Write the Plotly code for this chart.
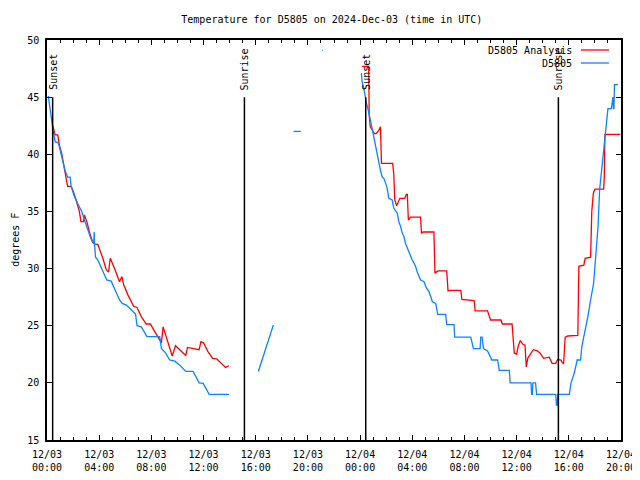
import pandas as pd
import plotly.graph_objects as go

# ---------------- data (hours after 2024-12-03 00:00 UTC, degrees F) ----------------
analysis_hours = [0.45, 0.62, 0.82, 0.95, 1.12, 1.33, 1.54, 1.58, 1.85, 1.97, 2.23, 2.48, 2.6, 2.8, 2.87,
                  3.08, 3.25, 3.5, 3.64, 3.9, 4.28, 4.54, 4.72, 4.85, 5.18, 5.56, 5.74, 5.87, 6.2, 6.64,
                  6.9, 7.23, 7.6, 7.92, 8.25, 8.58, 8.77, 8.9, 9.15, 9.4, 9.6, 9.85, 10.3, 10.64, 10.77,
                  11.2, 11.66, 11.8, 12.0, 12.35, 12.7, 13.0, 13.38, 13.69, 13.95,
                  None,
                  24.15, 24.66, 24.7, 24.78, 25.1, 25.23, 25.43, 25.56, 25.64, 26.5, 26.58, 26.66, 26.8,
                  27.05, 27.43, 27.54, 27.62, 27.7, 27.87, 28.64, 28.7, 28.82, 29.66, 29.7, 29.74, 29.97,
                  30.64, 30.74, 31.0, 31.72, 31.8, 32.74, 32.82, 33.77, 34.0, 34.8, 34.9, 35.65, 35.72,
                  35.82, 36.0, 36.12, 36.28, 36.46, 36.64, 36.74, 36.85, 37.15, 37.28, 37.6, 37.8, 38.07,
                  38.5, 38.72, 39.0, 39.14, 39.4, 39.5, 39.6, 39.72, 39.92, 40.69, 40.74, 40.77, 41.15,
                  41.25, 41.67, 41.76, 41.88, 42.0, 42.67, 42.72, 42.75, 42.77, 43.95]
analysis_temps = [42.5, 41.7, 41.7, 40.8, 40.1, 38.9, 37.75, 37.2, 37.2, 36.9, 36.0, 35.0, 34.1, 34.1, 34.7,
                  34.0, 33.2, 32.3, 32.15, 32.1, 30.9, 29.9, 29.7, 30.9, 30.0, 28.85, 29.3, 28.6, 27.7, 26.7,
                  26.6, 25.8, 25.15, 25.15, 24.5, 23.9, 23.5, 24.9, 24.05, 23.2, 22.35, 23.25, 22.8, 22.4, 23.1,
                  23.0, 22.9, 23.6, 23.5, 22.7, 22.15, 22.1, 21.7, 21.35, 21.5,
                  None,
                  47.7, 47.7, 43.4, 42.4, 41.8, 41.8, 42.1, 42.4, 39.2, 39.2, 38.3, 36.0, 35.5,
                  36.15, 36.15, 36.5, 36.5, 34.25, 34.5, 34.5, 33.1, 33.2, 33.2, 31.4, 29.6, 29.8,
                  29.8, 28.06, 28.1, 28.1, 27.3, 27.2, 26.3, 26.3, 25.5, 25.5, 25.15, 25.15, 23.9,
                  22.6, 22.5, 23.2, 23.7, 23.4, 23.3, 21.4, 22.15, 22.6, 22.9, 22.8, 22.6, 22.15,
                  22.25, 21.7, 21.7, 22.05, 22.0, 21.75, 21.7, 24.0, 24.1, 24.15, 27.25, 30.2, 30.3,
                  30.9, 31.0, 35.0, 36.6, 36.95, 36.95, 38.0, 40.5, 41.75, 41.75]

obs_hours = [0.1, 0.2, 0.35, 0.43, 0.62, 0.87, 1.0, 1.2, 1.38, 1.58, 1.77, 1.85, 2.1, 2.35, 2.66, 2.87,
             3.12, 3.38, 3.58, 3.62, 3.64, 3.72, 3.9, 4.28, 4.58, 4.92, 5.25, 5.56, 5.77, 6.08, 6.46,
             6.79, 6.9, 7.23, 7.66, 8.64, 8.77, 9.1, 9.4, 9.8, 10.18, 10.64, 11.2, 11.66, 11.97, 12.43,
             13.95,
             None, 16.2, 17.35,
             None, 18.9, 19.46,
             None, 21.08, 21.14,
             None,
             24.1, 24.15, 24.28, 24.35, 24.48, 24.6, 24.7, 24.85, 24.97, 25.1, 25.23, 25.3, 25.43,
             25.56, 25.7, 25.82, 25.95, 26.08, 26.2, 26.46, 26.58, 26.72, 26.85, 26.97, 27.1, 27.23,
             27.36, 27.48, 27.61, 27.74, 27.87, 28.0, 28.25, 28.38, 28.64, 28.9, 29.08, 29.28, 29.54,
             29.8, 29.95, 30.56, 30.64, 31.2, 31.25, 32.48, 32.69, 33.2, 33.25, 33.35, 33.46, 33.77,
             34.1, 34.54, 34.67, 35.44, 35.5, 37.1, 37.15, 37.2, 37.25, 37.45, 37.53, 39.0, 39.05,
             39.12, 39.15, 40.04, 40.17, 40.43, 40.64, 40.9, 41.0, 41.2, 41.46, 41.67, 41.9, 42.1,
             42.24, 42.36, 42.5, 42.64, 42.82, 43.0, 43.26, 43.38, 43.42, 43.46, 43.5, 43.77]
obs_temps = [45.1, 44.2, 43.0, 42.4, 41.1, 41.0, 40.4, 39.5, 38.6, 38.0, 38.0, 37.2, 36.3, 35.7, 35.0, 34.25,
             33.4, 32.6, 32.2, 33.2, 32.2, 31.0, 30.75, 29.7, 29.0, 28.9, 28.1, 27.25, 26.95, 26.8, 26.4,
             26.0, 25.0, 24.9, 24.05, 24.05, 23.0, 22.6, 22.0, 21.9, 21.55, 21.0, 21.0, 20.0, 19.95, 19.0,
             19.0,
             None, 21.0, 25.06,
             None, 42.0, 42.0,
             None, 49.1, 49.1,
             None,
             47.1, 46.35, 45.8, 45.3, 44.5, 44.0, 43.4, 42.4, 42.0, 41.25, 40.5, 39.8, 39.1,
             38.6, 38.0, 37.9, 37.5, 37.0, 36.15, 36.0, 35.3, 35.0, 34.85, 34.1, 33.7, 33.1,
             32.8, 32.2, 31.8, 31.5, 31.0, 30.75, 30.2, 29.7, 29.0, 28.85, 28.3, 28.0, 27.1,
             26.95, 26.0, 26.0, 25.1, 25.1, 24.0, 24.0, 23.0, 23.0, 24.0, 24.0, 23.0, 22.8,
             22.0, 22.0, 21.1, 21.1, 20.0, 20.0, 19.0, 19.0, 20.0, 20.0, 19.0, 19.0, 18.06,
             18.06, 19.0, 19.0, 20.0, 20.9, 22.0, 22.0, 23.2, 24.3, 25.8, 27.25, 28.7, 31.6,
             33.7, 36.9, 38.5, 39.9, 42.4, 44.0, 44.0, 45.0, 44.0, 44.0, 46.1, 46.1]

sun_labels = ["Sunset", "Sunrise", "Sunset", "Sunrise"]
sun_times = ["2024-12-03 00:26", "2024-12-03 15:08", "2024-12-04 00:26", "2024-12-04 15:12"]

series_names = ["D5805 Analysis", "D5805"]
series_colors = ["#ff0000", "#0a84ff"]

title_text = "Temperature for D5805 on 2024-Dec-03 (time in UTC)"
y_label = "degrees F"

base = pd.Timestamp("2024-12-03 00:00")


def to_dt(hours):
    return [None if h is None else base + pd.Timedelta(hours=h) for h in hours]


FONT = "DejaVu Sans Mono"

fig = go.Figure()
fig.add_trace(go.Scatter(x=to_dt(analysis_hours), y=analysis_temps, mode="lines",
                         line=dict(color=series_colors[0], width=1.3), name=series_names[0],
                         connectgaps=False, showlegend=False))
fig.add_trace(go.Scatter(x=to_dt(obs_hours), y=obs_temps, mode="lines",
                         line=dict(color=series_colors[1], width=1.3), name=series_names[1],
                         connectgaps=False, showlegend=False))

# sunrise / sunset markers
for lab, t in zip(sun_labels, sun_times):
    fig.add_shape(type="line", xref="x", yref="y", x0=t, x1=t, y0=15, y1=45,
                  line=dict(color="black", width=1.5))
    fig.add_annotation(x=t, y=45, xref="x", yref="y", text=lab, showarrow=False,
                       textangle=-90, xanchor="center", yanchor="bottom", yshift=5,
                       font=dict(family=FONT, size=10, color="black"))

# legend (gnuplot style: text then sample line)
for i, (nm, col) in enumerate(zip(series_names, series_colors)):
    yp = 0.975 - i * 0.0325
    fig.add_annotation(x=0.918, y=yp, xref="paper", yref="paper", text=nm, showarrow=False,
                       xanchor="right", yanchor="middle",
                       font=dict(family=FONT, size=10, color="black"))
    fig.add_shape(type="line", xref="paper", yref="paper", x0=0.93, x1=0.979, y0=yp, y1=yp,
                  line=dict(color=col, width=1.3))

# y-axis label
fig.add_annotation(x=-0.056, y=0.5, xref="paper", yref="paper", text=y_label, showarrow=False,
                   textangle=-90, xanchor="center", yanchor="middle",
                   font=dict(family=FONT, size=10, color="black"))

# page has an 8px body margin, so margins are offset to place the plot area at 47..621 x 40..440
fig.update_layout(
    width=640, height=480,
    margin=dict(l=39, r=27, t=32, b=48),
    paper_bgcolor="white", plot_bgcolor="white",
    font=dict(family=FONT, size=10, color="black"),
    title=dict(text=title_text, x=0.506, xanchor="center", y=1 - 11 / 480, yanchor="middle",
               font=dict(family=FONT, size=10, color="black")),
    showlegend=False,
)
fig.update_xaxes(
    type="date", range=["2024-12-03 00:00", "2024-12-04 20:00"],
    dtick=4 * 3600000, tick0="2024-12-03 00:00", tickformat="%m/%d<br>%H:%M",
    ticks="inside", ticklen=5, tickcolor="black", tickwidth=1, ticklabelstandoff=4,
    minor=dict(dtick=3600000, ticks="inside", ticklen=3, tickcolor="black", tickwidth=1),
    showline=True, linecolor="black", linewidth=1.5, mirror="allticks",
    showgrid=False, zeroline=False, tickfont=dict(family=FONT, size=10, color="black"),
)
fig.update_yaxes(
    range=[15, 50], dtick=5, tick0=15,
    ticks="inside", ticklen=5, tickcolor="black", tickwidth=1, ticklabelstandoff=4,
    showline=True, linecolor="black", linewidth=1.5, mirror="allticks",
    showgrid=False, zeroline=False, tickfont=dict(family=FONT, size=10, color="black"),
)

fig.write_html("out.html")
